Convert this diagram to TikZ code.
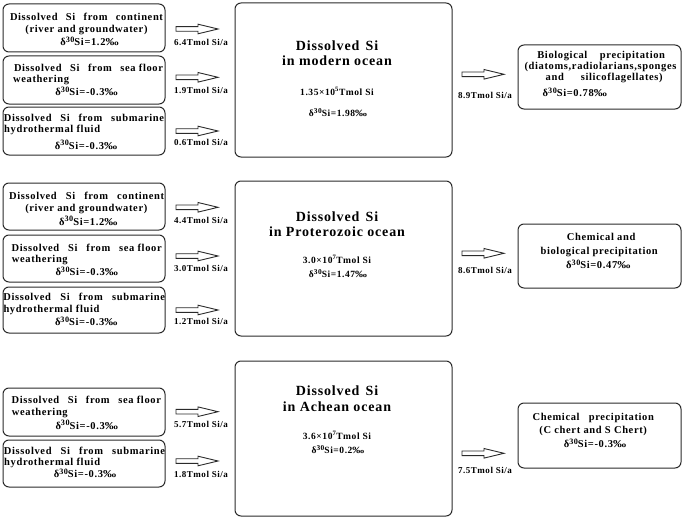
\documentclass[tikz,border=0pt]{standalone}
\usepackage{graphicx}
\usepackage{fontspec}
\setmainfont{Liberation Serif}[LetterSpace=6]
\definecolor{boxc}{HTML}{2A2A2A}
\newcommand{\dsi}[1]{δ\raisebox{0.3em}{\scalebox{0.78}{30}}Si=#1\scalebox{1.25}[1]{‰}}
\newcommand{\tline}[5]{\node[#1] (#2) at (#3,#4) {#5};}
\begin{document}
\begin{tikzpicture}[x=1pt,y=-1pt,
 box/.style={draw=boxc, line width=1pt, rounded corners=6pt, inner sep=0pt},
 lt/.style={font=\fontsize{10.5}{12.5}\selectfont\bfseries, inner sep=0pt, anchor=base},
 ltl/.style={lt, anchor=base west},
 lab/.style={font=\fontsize{9}{10}\selectfont\bfseries, inner sep=0pt},
 ttl/.style={font=\fontsize{14}{16}\selectfont\bfseries, inner sep=0pt, anchor=base},
 num/.style={font=\fontsize{9.5}{11}\selectfont\bfseries, inner sep=0pt, anchor=base},
 harrow/.style={draw=boxc, line width=0.9pt, fill=white, line join=miter},
 hollow/.pic={\path[harrow] (0,-2.3) -- (22,-2.3) -- (22,-4.8) -- (42,0) -- (22,4.8) -- (22,2.3) -- (0,2.3) -- cycle;}
]
\path[use as bounding box] (0,0) rectangle (685,519);

% ---------- Panel 1: modern ocean ----------
\node[box, minimum width=162pt, minimum height=48pt] (a1) at (84,28) {};
\node[box, minimum width=162pt, minimum height=48pt] (a2) at (84,80) {};
\node[box, minimum width=162pt, minimum height=48pt] (a3) at (84,131) {};
\tline{lt}{a1l1}{86.5}{20.5}{\makebox[153pt][s]{Dissolved Si from continent}}
\tline{lt}{a1l2}{86.5}{32.7}{(river and groundwater)}
\tline{lt}{a1l3}{89.5}{45.5}{\dsi{1.2}}
\tline{lt}{a2l1}{88.5}{71.3}{\makebox[149pt][s]{Dissolved Si from \mbox{sea floor}}}
\tline{ltl}{a2l2}{13}{82.6}{weathering}
\tline{lt}{a2l3}{86.5}{95.2}{\dsi{-0.3}}
\tline{lt}{a3l1}{84}{121.7}{\makebox[160pt][s]{Dissolved Si from submarine}}
\tline{ltl}{a3l2}{4}{132.7}{hydrothermal fluid}
\tline{lt}{a3l3}{86}{149}{\dsi{-0.3}}

\node[box, minimum width=217pt, minimum height=154pt] (m1) at (343.5,80) {};
\tline{ttl}{m1t1}{337}{51}{Dissolved\hspace{0.45em}Si}
\tline{ttl}{m1t2}{337}{66}{in modern ocean}
\tline{num}{m1n}{337}{95.5}{1.35×10\textsuperscript{5}Tmol Si}
\tline{num}{m1d}{338}{116}{\dsi{1.98}}

\node[box, minimum width=163pt, minimum height=64pt] (r1) at (599.5,77) {};
\tline{lt}{r1l1}{601.2}{58.3}{\makebox[127.7pt][s]{Biological precipitation}}
\tline{lt}{r1l2}{600.5}{69.3}{(diatoms,radiolarians,sponges}
\tline{lt}{r1l3}{604.2}{81}{\makebox[117pt][s]{and silicoflagellates)}}
\tline{lt}{r1l4}{574.8}{96.7}{\dsi{0.78}}

\coordinate (p1a) at (176,29);
\coordinate (p1b) at (176,77.3);
\coordinate (p1c) at (176,131);
\coordinate (p1o) at (462,74.3);
\pic at (p1a) {hollow};
\pic at (p1b) {hollow};
\pic at (p1c) {hollow};
\pic at (p1o) {hollow};
\node[lab] (l1a) at (201,42) {6.4Tmol Si/a};
\node[lab] (l1b) at (201,90) {1.9Tmol Si/a};
\node[lab] (l1c) at (201,142.3) {0.6Tmol Si/a};
\node[lab] (l1o) at (485,95) {8.9Tmol Si/a};

% ---------- Panel 2: Proterozoic ocean ----------
\node[box, minimum width=162pt, minimum height=47pt] (b1) at (84,206.5) {};
\node[box, minimum width=162pt, minimum height=47pt] (b2) at (84,258.5) {};
\node[box, minimum width=162pt, minimum height=46pt] (b3) at (84,310) {};
\tline{lt}{b1l1}{86.7}{199}{\makebox[155pt][s]{Dissolved Si from continent}}
\tline{lt}{b1l2}{86.3}{211.7}{(river and groundwater)}
\tline{lt}{b1l3}{88.3}{225}{\dsi{1.2}}
\tline{lt}{b2l1}{86.7}{251}{\makebox[150pt][s]{Dissolved Si from \mbox{sea floor}}}
\tline{ltl}{b2l2}{11.7}{262.7}{weathering}
\tline{lt}{b2l3}{86.7}{275.5}{\dsi{-0.3}}
\tline{lt}{b3l1}{84.2}{300.7}{\makebox[161.7pt][s]{Dissolved Si from submarine}}
\tline{ltl}{b3l2}{3.3}{312.7}{hydrothermal fluid}
\tline{lt}{b3l3}{86.2}{325.5}{\dsi{-0.3}}

\node[box, minimum width=217pt, minimum height=155pt] (m2) at (343.5,258.5) {};
\tline{ttl}{m2t1}{337}{221}{Dissolved\hspace{0.45em}Si}
\tline{ttl}{m2t2}{337}{236}{in Proterozoic ocean}
\tline{num}{m2n}{337}{263.5}{3.0×10\textsuperscript{7}Tmol Si}
\tline{num}{m2d}{338}{277}{\dsi{1.47}}

\node[box, minimum width=163pt, minimum height=64pt] (r2) at (599.5,256) {};
\tline{lt}{r2l1}{601.2}{240.7}{Chemical and}
\tline{lt}{r2l2}{599.2}{254}{biological precipitation}
\tline{lt}{r2l3}{598.3}{268.3}{\dsi{0.47}}

\coordinate (p2a) at (176,207.3);
\coordinate (p2b) at (176,256);
\coordinate (p2c) at (176,310);
\coordinate (p2o) at (462,253.3);
\pic at (p2a) {hollow};
\pic at (p2b) {hollow};
\pic at (p2c) {hollow};
\pic at (p2o) {hollow};
\node[lab] (l2a) at (201,220) {4.4Tmol Si/a};
\node[lab] (l2b) at (201,268.3) {3.0Tmol Si/a};
\node[lab] (l2c) at (201,321.7) {1.2Tmol Si/a};
\node[lab] (l2o) at (485,270.7) {8.6Tmol Si/a};

% ---------- Panel 3: Achean ocean ----------
\node[box, minimum width=162pt, minimum height=48pt] (c1) at (84,412) {};
\node[box, minimum width=162pt, minimum height=47pt] (c2) at (84,463.5) {};
\tline{lt}{c1l1}{86.3}{403.3}{\makebox[149.3pt][s]{Dissolved Si from \mbox{sea floor}}}
\tline{ltl}{c1l2}{11.7}{415}{weathering}
\tline{lt}{c1l3}{86.7}{429}{\dsi{-0.3}}
\tline{lt}{c2l1}{84.5}{454}{\makebox[161pt][s]{Dissolved Si from submarine}}
\tline{ltl}{c2l2}{4}{465}{hydrothermal fluid}
\tline{lt}{c2l3}{85}{477.5}{\dsi{-0.3}}

\node[box, minimum width=217pt, minimum height=155pt] (m3) at (343.5,438.5) {};
\tline{ttl}{m3t1}{337}{395}{Dissolved\hspace{0.45em}Si}
\tline{ttl}{m3t2}{337}{411.5}{in Achean ocean}
\tline{num}{m3n}{337}{439.5}{3.6×10\textsuperscript{7}Tmol Si}
\tline{num}{m3d}{338}{453.5}{\dsi{0.2}}

\node[box, minimum width=163pt, minimum height=65pt] (r3) at (599.5,435.5) {};
\tline{lt}{r3l1}{593.3}{420}{\makebox[121.3pt][s]{Chemical precipitation}}
\tline{lt}{r3l2}{593.2}{433.3}{(C chert and S Chert)}
\tline{lt}{r3l3}{595}{447.3}{\dsi{-0.3}}

\coordinate (p3a) at (176,411.7);
\coordinate (p3b) at (176,461);
\coordinate (p3o) at (462,453.3);
\pic at (p3a) {hollow};
\pic at (p3b) {hollow};
\pic at (p3o) {hollow};
\node[lab] (l3a) at (201,424) {5.7Tmol Si/a};
\node[lab] (l3b) at (201,474) {1.8Tmol Si/a};
\node[lab] (l3o) at (485,470.7) {7.5Tmol Si/a};
\end{tikzpicture}
\end{document}
